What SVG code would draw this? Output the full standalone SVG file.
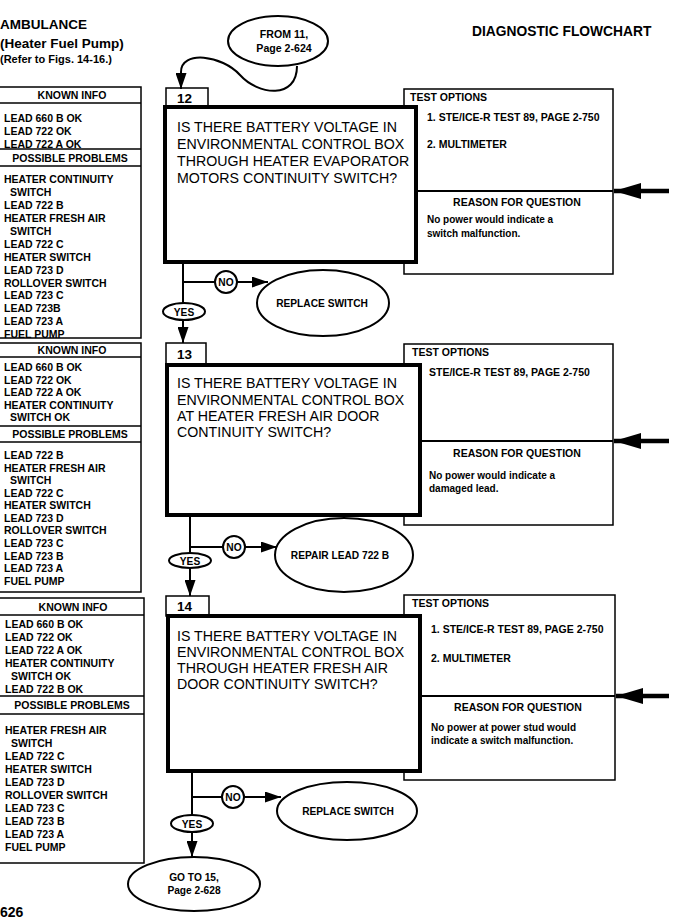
<svg xmlns="http://www.w3.org/2000/svg" width="683" height="922" viewBox="0 0 683 922">
<style>
text{font-family:"Liberation Sans",Arial,sans-serif;fill:#000}
.t{font-size:10.5px;font-weight:bold}
.c{text-anchor:middle}
.q{font-size:14.2px}
.h{font-size:13.5px;font-weight:bold}
.n{font-size:13.5px;font-weight:bold}
.s{font-size:10.2px;font-weight:bold}
.box{fill:#fff;stroke:#000;stroke-width:1.5}
.qb{fill:#fff;stroke:#000;stroke-width:4}
.ln{stroke:#000;stroke-width:1.5;fill:none}
.div{stroke:#000;stroke-width:2}
.con{stroke:#000;stroke-width:2;fill:none}
.big{stroke:#000;stroke-width:4.5;fill:none}
.el{fill:#fff;stroke:#000;stroke-width:2}
</style>
<defs>
<marker id="ah" markerUnits="userSpaceOnUse" markerWidth="16" markerHeight="11" refX="16" refY="5.5" orient="auto"><path d="M0,0 L16,5.5 L0,11 z" fill="#000"/></marker>
<marker id="bah" markerUnits="userSpaceOnUse" markerWidth="27" markerHeight="16" refX="27" refY="8" orient="auto"><path d="M0,0 L27,8 L0,16 z" fill="#000"/></marker>
</defs>
<rect width="683" height="922" fill="#fff"/>

<g id="header">
<text class="h" x="0" y="29">AMBULANCE</text>
<text class="h" x="0" y="48">(Heater Fuel Pump)</text>
<text x="0" y="63" style="font-size:11px;font-weight:bold">(Refer to Figs. 14-16.)</text>
<text x="472" y="36" style="font-size:13.8px;font-weight:bold">DIAGNOSTIC FLOWCHART</text>
<text x="0" y="917" style="font-size:14px;font-weight:bold">626</text>
</g>

<g id="info1">
<rect class="box" x="-1" y="87" width="142" height="251"/>
<line class="ln" x1="0" y1="103" x2="141" y2="103"/>
<line class="ln" x1="0" y1="149" x2="141" y2="149"/>
<line class="ln" x1="0" y1="166" x2="141" y2="166"/>
<text class="t c" x="72" y="99">KNOWN INFO</text>
<text class="t" x="4" y="122">LEAD 660 B OK</text>
<text class="t" x="4" y="135">LEAD 722 OK</text>
<text class="t" x="4" y="148">LEAD 722 A OK</text>
<text class="t c" x="70" y="162">POSSIBLE PROBLEMS</text>
<text class="t" x="4" y="183">HEATER CONTINUITY</text>
<text class="t" x="10" y="196">SWITCH</text>
<text class="t" x="4" y="209">LEAD 722 B</text>
<text class="t" x="4" y="222">HEATER FRESH AIR</text>
<text class="t" x="10" y="235">SWITCH</text>
<text class="t" x="4" y="247.5">LEAD 722 C</text>
<text class="t" x="4" y="260.5">HEATER SWITCH</text>
<text class="t" x="4" y="273.5">LEAD 723 D</text>
<text class="t" x="4" y="286.5">ROLLOVER SWITCH</text>
<text class="t" x="4" y="299">LEAD 723 C</text>
<text class="t" x="4" y="312">LEAD 723B</text>
<text class="t" x="4" y="325">LEAD 723 A</text>
<text class="t" x="4" y="338">FUEL PUMP</text>
</g>

<g id="info2">
<rect class="box" x="-1" y="343" width="142" height="249"/>
<line class="ln" x1="0" y1="357" x2="141" y2="357"/>
<line class="ln" x1="0" y1="426" x2="141" y2="426"/>
<line class="ln" x1="0" y1="442" x2="141" y2="442"/>
<text class="t c" x="72" y="354">KNOWN INFO</text>
<text class="t" x="4" y="371">LEAD 660 B OK</text>
<text class="t" x="4" y="383.5">LEAD 722 OK</text>
<text class="t" x="4" y="396">LEAD 722 A OK</text>
<text class="t" x="4" y="408.5">HEATER CONTINUITY</text>
<text class="t" x="10" y="421">SWITCH OK</text>
<text class="t c" x="70" y="438">POSSIBLE PROBLEMS</text>
<text class="t" x="4" y="459">LEAD 722 B</text>
<text class="t" x="4" y="471.5">HEATER FRESH AIR</text>
<text class="t" x="10" y="484">SWITCH</text>
<text class="t" x="4" y="496.5">LEAD 722 C</text>
<text class="t" x="4" y="509">HEATER SWITCH</text>
<text class="t" x="4" y="521.5">LEAD 723 D</text>
<text class="t" x="4" y="534">ROLLOVER SWITCH</text>
<text class="t" x="4" y="547">LEAD 723 C</text>
<text class="t" x="4" y="559.5">LEAD 723 B</text>
<text class="t" x="4" y="572">LEAD 723 A</text>
<text class="t" x="4" y="584.5">FUEL PUMP</text>
</g>

<g id="info3">
<rect class="box" x="-1" y="598" width="145" height="265"/>
<line class="ln" x1="0" y1="615" x2="144" y2="615"/>
<line class="ln" x1="0" y1="696" x2="144" y2="696"/>
<line class="ln" x1="0" y1="714" x2="144" y2="714"/>
<text class="t c" x="73" y="611">KNOWN INFO</text>
<text class="t" x="5" y="628">LEAD 660 B OK</text>
<text class="t" x="5" y="641">LEAD 722 OK</text>
<text class="t" x="5" y="654">LEAD 722 A OK</text>
<text class="t" x="5" y="667">HEATER CONTINUITY</text>
<text class="t" x="11" y="680">SWITCH OK</text>
<text class="t" x="5" y="693">LEAD 722 B OK</text>
<text class="t c" x="72" y="709">POSSIBLE PROBLEMS</text>
<text class="t" x="5" y="734">HEATER FRESH AIR</text>
<text class="t" x="11" y="747">SWITCH</text>
<text class="t" x="5" y="760">LEAD 722 C</text>
<text class="t" x="5" y="773">HEATER SWITCH</text>
<text class="t" x="5" y="786">LEAD 723 D</text>
<text class="t" x="5" y="799">ROLLOVER SWITCH</text>
<text class="t" x="5" y="812">LEAD 723 C</text>
<text class="t" x="5" y="825">LEAD 723 B</text>
<text class="t" x="5" y="838">LEAD 723 A</text>
<text class="t" x="5" y="851">FUEL PUMP</text>
</g>

<g id="test12">
<rect class="box" x="404" y="89" width="209" height="185"/>
<line class="div" x1="416" y1="191" x2="613" y2="191"/>
<text class="t" x="410" y="101">TEST OPTIONS</text>
<text class="t" x="427" y="121">1. STE/ICE-R TEST 89, PAGE 2-750</text>
<text class="t" x="427" y="148">2. MULTIMETER</text>
<text class="t c" x="517" y="206">REASON FOR QUESTION</text>
<text class="t" x="427" y="223" style="font-size:10px">No power would indicate a</text>
<text class="t" x="427" y="237" style="font-size:10px">switch malfunction.</text>
</g>

<g id="test13">
<rect class="box" x="404" y="344" width="209" height="181"/>
<line class="div" x1="418" y1="441" x2="613" y2="441"/>
<text class="t" x="412" y="356">TEST OPTIONS</text>
<text class="t" x="429" y="376">STE/ICE-R TEST 89, PAGE 2-750</text>
<text class="t c" x="517" y="457">REASON FOR QUESTION</text>
<text class="t" x="429" y="479" style="font-size:10px">No power would indicate a</text>
<text class="t" x="429" y="492" style="font-size:10px">damaged lead.</text>
</g>

<g id="test14">
<rect class="box" x="404" y="595" width="211" height="185"/>
<line class="div" x1="418" y1="696" x2="615" y2="696"/>
<text class="t" x="412" y="607">TEST OPTIONS</text>
<text class="t" x="431" y="633">1. STE/ICE-R TEST 89, PAGE 2-750</text>
<text class="t" x="431" y="662">2. MULTIMETER</text>
<text class="t c" x="518" y="711">REASON FOR QUESTION</text>
<text class="t" x="431" y="731" style="font-size:10px">No power at power stud would</text>
<text class="t" x="431" y="744" style="font-size:10px">indicate a switch malfunction.</text>
</g>

<g id="q12">
<rect class="box" x="166" y="88" width="42" height="19"/>
<text class="n" x="177" y="103">12</text>
<rect class="qb" x="165" y="107" width="251" height="155"/>
<text class="q" x="177" y="132">IS THERE BATTERY VOLTAGE IN</text>
<text class="q" x="177" y="149">ENVIRONMENTAL CONTROL BOX</text>
<text class="q" x="177" y="166">THROUGH HEATER EVAPORATOR</text>
<text class="q" x="177" y="183">MOTORS CONTINUITY SWITCH?</text>
</g>

<g id="q13">
<rect class="box" x="166" y="343" width="40" height="21"/>
<text class="n" x="177" y="359">13</text>
<rect class="qb" x="167" y="365" width="253" height="150"/>
<text class="q" x="177" y="388">IS THERE BATTERY VOLTAGE IN</text>
<text class="q" x="177" y="405">ENVIRONMENTAL CONTROL BOX</text>
<text class="q" x="177" y="421">AT HEATER FRESH AIR DOOR</text>
<text class="q" x="177" y="437">CONTINUITY SWITCH?</text>
</g>

<g id="q14">
<rect class="box" x="166" y="596" width="43" height="20"/>
<text class="n" x="177" y="611">14</text>
<rect class="qb" x="168" y="616" width="252" height="155"/>
<text class="q" x="177" y="641">IS THERE BATTERY VOLTAGE IN</text>
<text class="q" x="177" y="657">ENVIRONMENTAL CONTROL BOX</text>
<text class="q" x="177" y="673">THROUGH HEATER FRESH AIR</text>
<text class="q" x="177" y="689">DOOR CONTINUITY SWITCH?</text>
</g>

<g id="connectors">
<path class="con" d="M297,66 C297,100 258,95 240,75 C222,55 181,50 181,72 L181,89" marker-end="url(#ah)"/>
<line class="big" x1="669" y1="191" x2="614" y2="191" marker-end="url(#bah)"/>
<line class="big" x1="669" y1="441" x2="614" y2="441" marker-end="url(#bah)"/>
<line class="big" x1="669" y1="696" x2="616" y2="696" marker-end="url(#bah)"/>
<line class="con" x1="183" y1="262" x2="183" y2="303"/>
<line class="con" x1="183" y1="282" x2="215" y2="282"/>
<line class="con" x1="237" y1="282" x2="268" y2="282" marker-end="url(#ah)"/>
<line class="con" x1="183" y1="320" x2="183" y2="343" marker-end="url(#ah)"/>
<line class="con" x1="190" y1="515" x2="190" y2="553"/>
<line class="con" x1="190" y1="547" x2="223" y2="547"/>
<line class="con" x1="245" y1="547" x2="277" y2="547" marker-end="url(#ah)"/>
<line class="con" x1="190" y1="568" x2="190" y2="596" marker-end="url(#ah)"/>
<line class="con" x1="192" y1="771" x2="192" y2="815"/>
<line class="con" x1="192" y1="797" x2="222" y2="797"/>
<line class="con" x1="244" y1="797" x2="281" y2="797" marker-end="url(#ah)"/>
<line class="con" x1="192" y1="832" x2="192" y2="857" marker-end="url(#ah)"/>
</g>

<g id="from11">
<ellipse class="el" cx="278" cy="41" rx="50" ry="25"/>
<text class="s c" x="284" y="38" style="font-size:10.6px">FROM 11,</text>
<text class="s c" x="284" y="52" style="font-size:10.6px">Page 2-624</text>
</g>
<g id="no12"><circle class="el" cx="226" cy="282" r="11"/><text class="s c" x="226" y="286">NO</text></g>
<g id="yes12"><ellipse class="el" cx="184" cy="311.5" rx="21" ry="8.5"/><text class="s c" x="184" y="315.5">YES</text></g>
<g id="replace12"><ellipse class="el" cx="323" cy="303" rx="66" ry="33"/><text class="s c" x="322" y="306.5">REPLACE SWITCH</text></g>
<g id="no13"><circle class="el" cx="234" cy="547" r="11"/><text class="s c" x="234" y="551">NO</text></g>
<g id="yes13"><ellipse class="el" cx="190" cy="560.5" rx="21" ry="7.5"/><text class="s c" x="190" y="564.5">YES</text></g>
<g id="repair13"><ellipse class="el" cx="344" cy="555" rx="69" ry="37"/><text class="s c" x="340" y="559">REPAIR LEAD 722 B</text></g>
<g id="no14"><circle class="el" cx="233" cy="797" r="11"/><text class="s c" x="233" y="801">NO</text></g>
<g id="yes14"><ellipse class="el" cx="192" cy="823.5" rx="21" ry="8.5"/><text class="s c" x="192" y="827.5">YES</text></g>
<g id="replace14"><ellipse class="el" cx="347" cy="811" rx="70" ry="29"/><text class="s c" x="348" y="814.5">REPLACE SWITCH</text></g>
<g id="goto15">
<ellipse class="el" cx="194" cy="884" rx="66" ry="27"/>
<text class="s c" x="194" y="881">GO TO 15,</text>
<text class="s c" x="194" y="894">Page 2-628</text>
</g>
</svg>
